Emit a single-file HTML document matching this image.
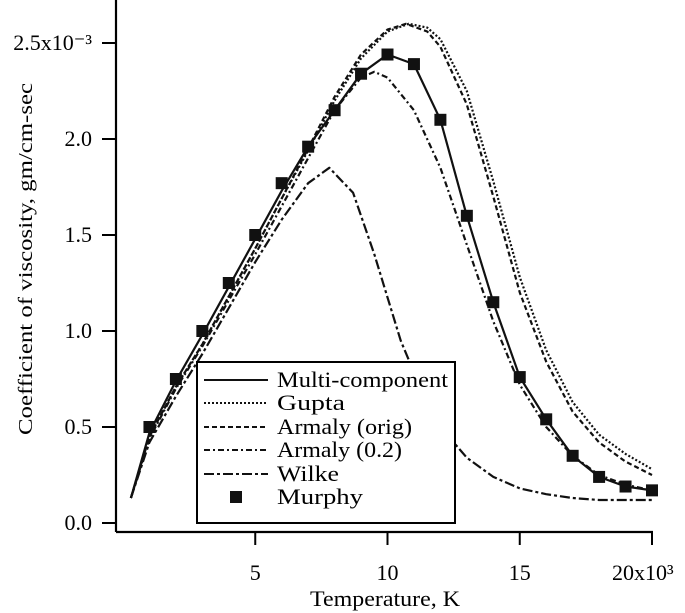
<!DOCTYPE html>
<html><head><meta charset="utf-8"><style>
body{margin:0;background:#fff;}
svg{display:block;font-family:"Liberation Serif",serif;}
</style></head><body>
<svg id="chart" width="685" height="613" viewBox="0 0 685 613" xmlns="http://www.w3.org/2000/svg">
<g id="axes"></g>
<g id="series"></g>
<g id="legend"></g>
</svg>
<script>
const xTicks=[5,10,15,20];
const xTickLabels=["5","10","15","20x10³"];
const yTicks=[0,0.5,1.0,1.5,2.0,2.5];
const yTickLabels=["0.0","0.5","1.0","1.5","2.0","2.5x10⁻³"];
const murphyX=[1,2,3,4,5,6,7,8,9,10,11,12,13,14,15,16,17,18,19,20];
const murphyY=[0.50,0.75,1.00,1.25,1.50,1.77,1.96,2.15,2.34,2.44,2.39,2.10,1.60,1.15,0.76,0.54,0.35,0.24,0.19,0.17];
const multiX=[0.3,1,2,3,4,5,6,7,8,9,10,11,12,13,14,15,16,17,18,19,20];
const multiY=[0.13,0.47,0.74,0.98,1.23,1.48,1.73,1.96,2.15,2.34,2.44,2.39,2.10,1.60,1.15,0.76,0.54,0.35,0.24,0.19,0.17];
const guptaX=[0.3,1,2,3,4,5,6,7,8,9,10,10.8,11.5,12,13,14,15,16,17,18,19,20];
const guptaY=[0.13,0.45,0.71,0.93,1.18,1.43,1.69,1.94,2.20,2.42,2.56,2.60,2.58,2.52,2.25,1.78,1.28,0.90,0.63,0.46,0.36,0.28];
const armOrigX=[0.3,1,2,3,4,5,6,7,8,9,10,10.7,11.5,12,13,14,15,16,17,18,19,20];
const armOrigY=[0.13,0.45,0.71,0.93,1.18,1.43,1.69,1.95,2.22,2.44,2.57,2.60,2.56,2.48,2.18,1.70,1.20,0.84,0.58,0.42,0.32,0.25];
const arm02X=[0.3,1,2,3,4,5,6,7,8,9,9.5,10,11,12,13,14,15,16,17,18,19,20];
const arm02Y=[0.13,0.44,0.70,0.92,1.16,1.40,1.65,1.90,2.15,2.32,2.35,2.32,2.15,1.85,1.45,1.05,0.72,0.50,0.35,0.25,0.20,0.17];
const wilkeX=[0.3,1,2,3,4,5,6,7,7.8,8.7,9.5,10.5,11.5,12,13,14,15,16,17,18,19,20];
const wilkeY=[0.13,0.42,0.66,0.88,1.12,1.36,1.58,1.77,1.85,1.72,1.40,0.95,0.62,0.50,0.34,0.24,0.18,0.15,0.13,0.12,0.12,0.12];

const NS="http://www.w3.org/2000/svg";
const sx=v=>123+26.45*v;
const sy=v=>523-192*v;
function mk(tag,attrs,parent){const e=document.createElementNS(NS,tag);for(const k in attrs)e.setAttribute(k,attrs[k]);parent.appendChild(e);return e;}
const axes=document.getElementById('axes'),series=document.getElementById('series'),legend=document.getElementById('legend');

let a=mk('line',{x1:116,y1:0,x2:116,y2:532,stroke:'#000','stroke-width':2.2},axes);


a=mk('line',{x1:116,y1:532,x2:653,y2:532,stroke:'#000','stroke-width':2.2},axes);


xTicks.forEach((v,i)=>{
 const t=mk('line',{x1:sx(v),y1:532,x2:sx(v),y2:545,stroke:'#000','stroke-width':2},axes);
 
 
 const lab=mk('text',{x:i==3?sx(v)-40:sx(v),y:580,'font-size':22,'text-anchor':i==3?'start':'middle'},axes);
 lab.textContent=xTickLabels[i];
 
 
});
yTicks.forEach((v,i)=>{
 const t=mk('line',{x1:102,y1:sy(v),x2:116,y2:sy(v),stroke:'#000','stroke-width':2},axes);
 
 
 const lab=mk('text',{x:92,y:sy(v)+7,'font-size':22,'text-anchor':'end'},axes);
 lab.textContent=yTickLabels[i];
 
 
});
let tt=mk('text',{x:310,y:606,'font-size':22,textLength:150,lengthAdjust:'spacingAndGlyphs'},axes);
tt.textContent='Temperature, K';


tt=mk('text',{x:0,y:0,'font-size':20,textLength:352,lengthAdjust:'spacingAndGlyphs',transform:'translate(32,435) rotate(-90)'},axes);
tt.textContent='Coefficient of viscosity, gm/cm-sec';



const styles=[
 {name:'Multi-component',xs:multiX,ys:multiY,dash:'',w:2.2},
 {name:'Gupta',xs:guptaX,ys:guptaY,dash:'2 2',w:2.2},
 {name:'Armaly (orig)',xs:armOrigX,ys:armOrigY,dash:'5 3',w:2.2},
 {name:'Armaly (0.2)',xs:arm02X,ys:arm02Y,dash:'6 3 2 3',w:2.2},
 {name:'Wilke',xs:wilkeX,ys:wilkeY,dash:'10 3 3 3',w:2.2}
];
const legendLens=[171,68,135,125,62];
styles.forEach(s=>{
 const d=s.xs.map((x,i)=>(i?'L':'M')+sx(x).toFixed(1)+','+sy(s.ys[i]).toFixed(1)).join(' ');
 const p=mk('path',{d:d,fill:'none',stroke:'#111','stroke-width':s.w,'stroke-dasharray':s.dash,'stroke-linejoin':'round'},series);
 
 
});
murphyX.forEach((x,i)=>{
 const r=mk('rect',{x:sx(x)-6,y:sy(murphyY[i])-6,width:12,height:12,fill:'#111'},series);
 
 
});

const box=mk('rect',{x:197,y:362,width:258,height:161,fill:'#fff',stroke:'#000','stroke-width':2},legend);


const rowsY=[380,403,427,450,474,497];
styles.forEach((s,i)=>{
 const l=mk('line',{x1:204,y1:rowsY[i],x2:268,y2:rowsY[i],stroke:'#111','stroke-width':2,'stroke-dasharray':s.dash},legend);
 
 
 const t=mk('text',{x:277,y:rowsY[i]+7,'font-size':22,textLength:legendLens[i],lengthAdjust:'spacingAndGlyphs'},legend);
 t.textContent=s.name;
 
 
});
const ms=mk('rect',{x:230,y:rowsY[5]-6,width:12,height:12,fill:'#111'},legend);


const mt=mk('text',{x:277,y:rowsY[5]+7,'font-size':22,textLength:86,lengthAdjust:'spacingAndGlyphs'},legend);
mt.textContent='Murphy';


</script>
</body></html>
